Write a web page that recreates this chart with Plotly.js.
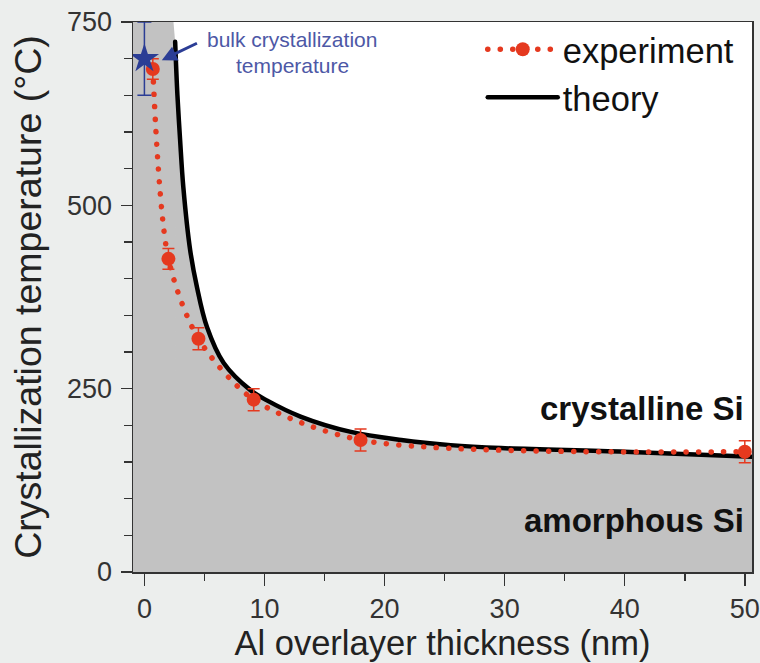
<!DOCTYPE html>
<html><head><meta charset="utf-8">
<script src="https://cdn.plot.ly/plotly-3.0.1.min.js"></script>
<style>
html,body{margin:0;padding:0;background:#eceeed;}
#chart{width:760px;height:663px;}
.js-line{stroke-linecap:round !important;}
</style></head>
<body><div id="chart"></div>
<script>
// experiment data (Al thickness nm, crystallization temperature °C)
const expX = [0.7, 2.0, 4.5, 9.1, 18.0, 50.0];
const expY = [686, 427, 318, 235, 180, 164];
const expErr = [14, 14, 15, 15, 15, 15];
// theory curve
const theoryX = [2.56, 2.75, 2.97, 3.24, 3.81, 4.37, 5.21, 6.6, 8.83, 10.2, 13.0, 17.2, 21.4, 25.5, 29.7, 40.0, 50.6];
const theoryY = [723, 650, 590, 525, 439, 389, 334, 285, 248, 234, 212, 191, 180, 173, 169, 164, 157];
// bulk crystallization temperature
const bulkX = [0];
const bulkY = [700];
const bulkErr = [50];
// amorphous region column left of theory onset
const columnX = [-0.95, 2.42, 2.56, 2.62];
const columnY = [750, 750, 723, 690];

const red = '#e5391f';
const blue = '#2b3d95';
const grayFill = '#c2c2c2';
const font = 'Liberation Sans, Arial, Helvetica, sans-serif';

const traces = [
  {x: columnX, y: columnY, mode: 'lines', fill: 'tozeroy', fillcolor: grayFill,
   line: {width: 0, color: grayFill}, showlegend: false, hoverinfo: 'skip'},
  {x: theoryX, y: theoryY, mode: 'lines', fill: 'tozeroy', fillcolor: grayFill,
   line: {width: 0, color: grayFill, shape: 'spline', smoothing: 1}, showlegend: false, hoverinfo: 'skip'},
  {x: theoryX, y: theoryY, mode: 'lines', name: 'theory',
   line: {color: '#000', width: 4.5, shape: 'spline', smoothing: 1}, legendrank: 2},
  {x: expX, y: expY, mode: 'lines+markers', name: 'experiment',
   line: {color: red, width: 5.5, dash: '0.1px,12.4px', shape: 'spline', smoothing: 0.8},
   marker: {color: red, size: 14, symbol: 'circle'},
   error_y: {type: 'data', array: expErr, visible: true, color: red, thickness: 1.5, width: 6},
   legendrank: 1},
  {x: bulkX, y: bulkY, mode: 'markers', showlegend: false,
   marker: {color: blue, size: 22, symbol: 'star'},
   error_y: {type: 'data', array: bulkErr, visible: true, color: blue, thickness: 1.5, width: 7}}
];

const layout = {
  width: 760, height: 663,
  paper_bgcolor: '#eceeed', plot_bgcolor: '#ffffff',
  margin: {l: 133, r: 8, t: 22, b: 91, pad: 0},
  font: {family: font, color: '#222'},
  showlegend: true,
  legend: {x: 0.565, y: 1.003, xanchor: 'left', yanchor: 'top', bgcolor: 'rgba(0,0,0,0)',
    font: {size: 34.5, color: '#111', family: font}, itemwidth: 70, tracegroupgap: 0},
  xaxis: {range: [-0.95, 50.6], showgrid: false, zeroline: false,
    showline: true, linecolor: '#333', linewidth: 1.5, mirror: true,
    ticks: 'outside', ticklen: 12, tickwidth: 1.5, tickcolor: '#333', dtick: 10, tick0: 0,
    minor: {ticks: 'outside', dtick: 5, ticklen: 7, tickwidth: 1.5, tickcolor: '#333', showgrid: false},
    tickfont: {size: 27, color: '#333', family: font},
    title: {text: 'Al overlayer thickness (nm)', font: {size: 34.5, color: '#222', family: font}, standoff: 6}},
  yaxis: {range: [0, 750], showgrid: false, zeroline: false,
    showline: true, linecolor: '#333', linewidth: 1.5, mirror: true,
    ticks: 'outside', ticklen: 11, tickwidth: 1.5, tickcolor: '#333', dtick: 250, tick0: 0,
    minor: {ticks: 'outside', dtick: 50, ticklen: 8, tickwidth: 1.5, tickcolor: '#333', showgrid: false},
    tickfont: {size: 27, color: '#333', family: font}, ticklabelstandoff: 3,
    title: {text: 'Crystallization temperature (\u00B0C)', font: {size: 37.5, color: '#222', family: font}, standoff: 14}},
  annotations: [
    {x: 12.3, y: 726, xref: 'x', yref: 'y', text: 'bulk crystallization', showarrow: false,
     font: {size: 21, color: '#4d58a6', family: font}},
    {x: 12.3, y: 691, xref: 'x', yref: 'y', text: 'temperature', showarrow: false,
     font: {size: 21, color: '#4d58a6', family: font}},
    {x: 1.45, y: 698, xref: 'x', yref: 'y', ax: 4.5, ay: 722, axref: 'x', ayref: 'y', text: '',
     showarrow: true, arrowhead: 2, arrowsize: 1, arrowwidth: 3, arrowcolor: blue},
    {x: 0.9903, y: 0.298, xref: 'paper', yref: 'paper', xanchor: 'right', yanchor: 'middle',
     text: '<b>crystalline Si</b>', showarrow: false, font: {size: 33, color: '#111', family: font}},
    {x: 0.9903, y: 0.0945, xref: 'paper', yref: 'paper', xanchor: 'right', yanchor: 'middle',
     text: '<b>amorphous Si</b>', showarrow: false, font: {size: 33, color: '#111', family: font}}
  ]
};

Plotly.newPlot('chart', traces, layout, {staticPlot: true, displayModeBar: false});
</script>
</body></html>
